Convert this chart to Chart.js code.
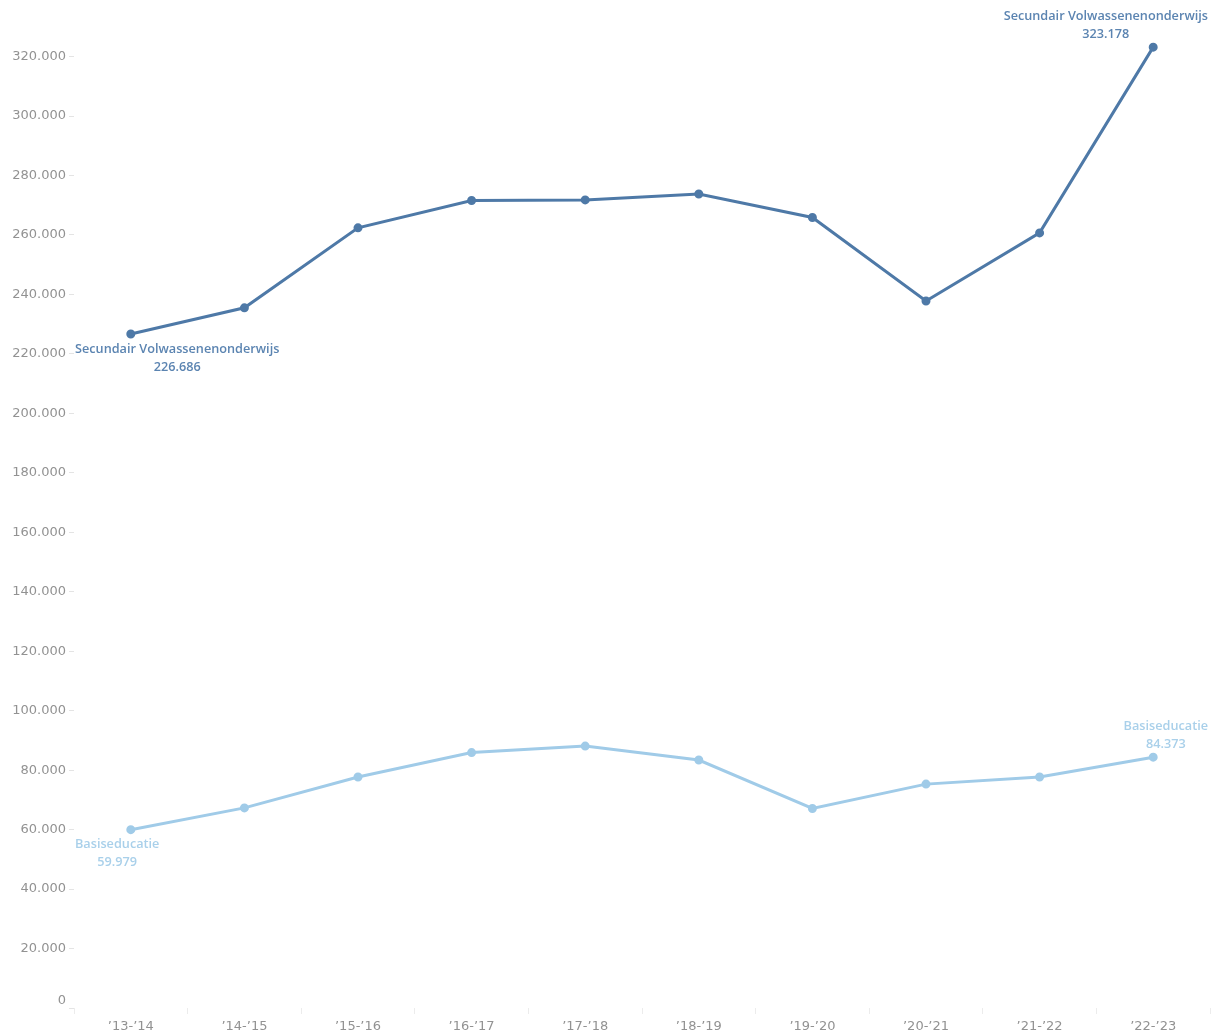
<!DOCTYPE html>
<html>
<head>
<meta charset="utf-8">
<script src="https://cdn.jsdelivr.net/npm/chart.js@4/dist/chart.umd.min.js"></script>
<style>
  body { margin: 0; background: #fff; }
  #wrap { width: 1218px; height: 1036px; }
</style>
</head>
<body>
<div id="wrap"><canvas id="lineChart" width="1218" height="1036"></canvas></div>
<script>
// schooljaren en aantallen
const schoolYears = ['’13-’14', '’14-’15', '’15-’16', '’16-’17', '’17-’18', '’18-’19', '’19-’20', '’20-’21', '’21-’22', '’22-’23'];
const secundairValues = [226686, 235500, 262400, 271600, 271800, 273800, 265900, 237800, 260700, 323178];
const basisValues = [59979, 67300, 77700, 85900, 88100, 83400, 67100, 75300, 77700, 84373];
const seriesNames = ['Secundair Volwassenenonderwijs', 'Basiseducatie'];
const yTickStep = 20000;
const yTickTop = 320000;
const yMax = 335000;

const darkBlue = '#4e79a7';
const lightBlue = '#a0cbe8';
const tickGrey = '#929292';

// getal met punt als duizendtal-scheiding
function fmt(v) {
  return String(Math.round(v)).replace(/\B(?=(\d{3})+(?!\d))/g, '.');
}

// labels bij eerste en laatste punt, zoals in Tableau
const endLabels = {
  id: 'endLabels',
  afterDatasetsDraw(chart) {
    const ctx = chart.ctx;
    const area = chart.chartArea;
    ctx.save();
    ctx.font = '600 12.7px "Open Sans", sans-serif';
    ctx.textBaseline = 'middle';
    ctx.textAlign = 'center';
    chart.data.datasets.forEach((ds, i) => {
      const meta = chart.getDatasetMeta(i);
      const n = ds.data.length;
      ctx.fillStyle = ds.labelColor;
      const w = ctx.measureText(ds.label).width;

      // eerste punt: onder het punt, links tegen de rand
      const p0 = meta.data[0];
      const left = area.left + 1;
      ctx.fillText(ds.label, left + w / 2, p0.y + 15);
      ctx.fillText(fmt(ds.data[0]), left + w / 2, p0.y + 33);

      // laatste punt: boven het punt, rechts tegen de rand
      const pn = meta.data[n - 1];
      const right = area.right - 2;
      ctx.fillText(ds.label, right - w / 2, pn.y - 31);
      ctx.fillText(fmt(ds.data[n - 1]), right - w / 2, pn.y - 13);
    });
    ctx.restore();
  }
};

const ctx = document.getElementById('lineChart');
const chart = new Chart(ctx, {
  type: 'line',
  data: {
    labels: schoolYears,
    datasets: [{
      label: seriesNames[0],
      data: secundairValues,
      borderColor: darkBlue,
      backgroundColor: darkBlue,
      labelColor: '#5b84b1',
      borderWidth: 3,
      pointRadius: 3,
      pointHoverRadius: 3,
      tension: 0
    }, {
      label: seriesNames[1],
      data: basisValues,
      borderColor: lightBlue,
      backgroundColor: lightBlue,
      labelColor: '#a9d0ea',
      borderWidth: 3,
      pointRadius: 3,
      pointHoverRadius: 3,
      tension: 0
    }]
  },
  options: {
    responsive: false,
    animation: false,
    layout: { padding: { top: 12, right: 8, left: 0, bottom: 0 } },
    plugins: {
      legend: { display: false },
      tooltip: { enabled: false }
    },
    scales: {
      x: {
        offset: true,
        grid: { offset: true, drawOnChartArea: false, tickLength: 6, color: '#ececec' },
        border: { display: false },
        ticks: {
          color: tickGrey,
          font: { family: '"DejaVu Sans", sans-serif', size: 13 },
          padding: 5,
          maxRotation: 0
        },
        afterFit(scale) { scale.height = 28; }
      },
      y: {
        min: 0,
        max: yMax,
        grid: { drawOnChartArea: false, tickLength: 5, color: '#e4e4e4' },
        border: { display: false },
        ticks: {
          autoSkip: false,
          color: tickGrey,
          padding: 3,
          font: { family: '"DejaVu Sans", sans-serif', size: 13 },
          // nul iets hoger zetten, zoals in het origineel
          callback: v => v === 0 ? ['0', ''] : fmt(v)
        },
        afterBuildTicks(scale) {
          const t = [];
          for (let v = 0; v <= yTickTop; v += yTickStep) t.push({ value: v });
          scale.ticks = t;
        },
        afterFit(scale) { scale.width = 74; }
      }
    }
  },
  plugins: [endLabels]
});
</script>
</body>
</html>
